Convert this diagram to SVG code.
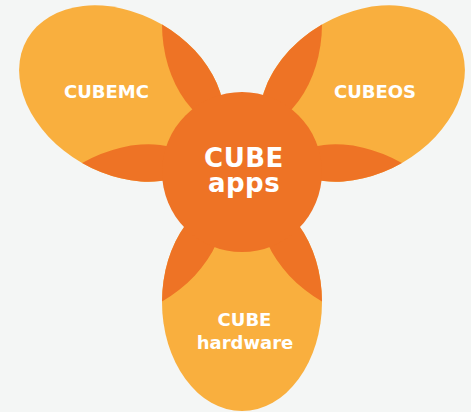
<svg xmlns="http://www.w3.org/2000/svg" width="471" height="412" viewBox="0 0 471 412">
<defs>
<style>
.light{fill:#F9AF3E}
.dark{fill:#EE7325}
.lbl{font-family:"DejaVu Sans","Open Sans",sans-serif;font-weight:700;fill:#FFFFFF;text-anchor:middle}
</style>
<clipPath id="petalClip">
<ellipse cx="242" cy="302" rx="80" ry="109"/>
<ellipse cx="242" cy="302" rx="80" ry="109" transform="rotate(120 242 163)"/>
<ellipse cx="242" cy="302" rx="80" ry="109" transform="rotate(-120 242 163)"/>
</clipPath>
</defs>
<rect width="471" height="412" fill="#F4F6F5"/>
<g id="cubemc">
<ellipse class="light" cx="242" cy="302" rx="80" ry="109" transform="rotate(120 242 163)"/>
</g>
<g id="cubeos">
<ellipse class="light" cx="242" cy="302" rx="80" ry="109" transform="rotate(-120 242 163)"/>
</g>
<g id="hardware">
<ellipse class="light" cx="242" cy="302" rx="80" ry="109"/>
</g>
<g id="overlap" clip-path="url(#petalClip)">
<ellipse class="dark" cx="242" cy="302" rx="80" ry="109" transform="rotate(60 242 163)"/>
<ellipse class="dark" cx="242" cy="302" rx="80" ry="109" transform="rotate(180 242 163)"/>
<ellipse class="dark" cx="242" cy="302" rx="80" ry="109" transform="rotate(-60 242 163)"/>
</g>
<g id="apps">
<circle class="dark" cx="242" cy="172" r="80"/>
<text class="lbl" x="244" y="167" font-size="26" letter-spacing="0.5">CUBE</text>
<text class="lbl" x="244" y="192" font-size="26" letter-spacing="0.5">apps</text>
</g>
<g id="labels">
<text class="lbl" x="106.5" y="98" font-size="18">CUBEMC</text>
<text class="lbl" x="375" y="98" font-size="18">CUBEOS</text>
<text class="lbl" x="244.5" y="326" font-size="18">CUBE</text>
<text class="lbl" x="245" y="349" font-size="18">hardware</text>
</g>
<g id="connectors"></g>
</svg>
